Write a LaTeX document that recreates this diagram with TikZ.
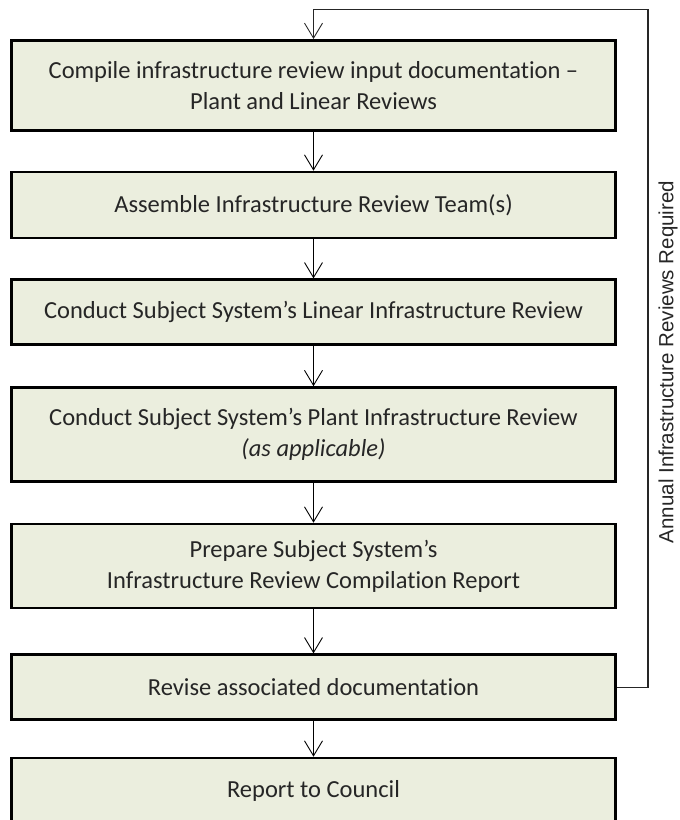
\documentclass[tikz,border=0pt]{standalone}
\usepackage{fontspec}
\setmainfont{Carlito}[Ligatures=NoCommon]
\newfontfamily\sidefont{Liberation Sans}
\usetikzlibrary{arrows.meta}
\definecolor{boxfill}{HTML}{EBEEDE}
\definecolor{inkgray}{HTML}{262626}

\begin{document}
\begin{tikzpicture}[x=1pt,y=-1pt,
	stage/.style={draw=black,line width=2.6pt,fill=boxfill,text=inkgray,minimum width=604pt,inner sep=0pt,align=center,font=\fontsize{24.5}{31}\selectfont},
	flow/.style={-{Straight Barb[length=15pt,width=18pt]},line width=0.9pt},
	feedback/.style={draw=inkgray,line width=1.4pt}]
		\useasboundingbox (0,0) rectangle (680,820);
		\node[stage,minimum height=90pt] (compile) at (313.5,85.3) {Compile infrastructure review input documentation –\\Plant and Linear Reviews};
		\node[stage,minimum height=66pt] (assemble) at (313.5,205) {Assemble Infrastructure Review Team(s)};
		\node[stage,minimum height=65pt] (linear) at (313.5,312.2) {Conduct Subject System’s Linear Infrastructure Review};
		\node[stage,minimum height=94pt] (plant) at (313.5,434.5) {Conduct Subject System’s Plant Infrastructure Review\\\textit{(as applicable)}};
		\node[stage,minimum height=84pt] (prepare) at (313.5,566) {Prepare Subject System’s\\Infrastructure Review Compilation Report};
		\node[stage,minimum height=65pt] (revise) at (313.5,687.2) {Revise associated documentation};
		\node[stage,minimum height=65pt] (council) at (313.5,790.5) {Report to Council};
		\node[rotate=90,text=inkgray,font=\sidefont\fontsize{20.5}{24}\selectfont] (annual) at (668,362) {Annual Infrastructure Reviews Required};
		\draw[flow] (compile) -- (assemble);
		\draw[flow] (assemble) -- (linear);
		\draw[flow] (linear) -- (plant);
		\draw[flow] (plant) -- (prepare);
		\draw[flow] (prepare) -- (revise);
		\draw[flow] (revise) -- (council);
		% loop back to the top
		\coordinate (looptop) at (648,9);
		\draw[feedback] (revise.east) -| (looptop);
		\draw[feedback,flow] (looptop) -| (compile.north);
	\end{tikzpicture}
\end{document}
